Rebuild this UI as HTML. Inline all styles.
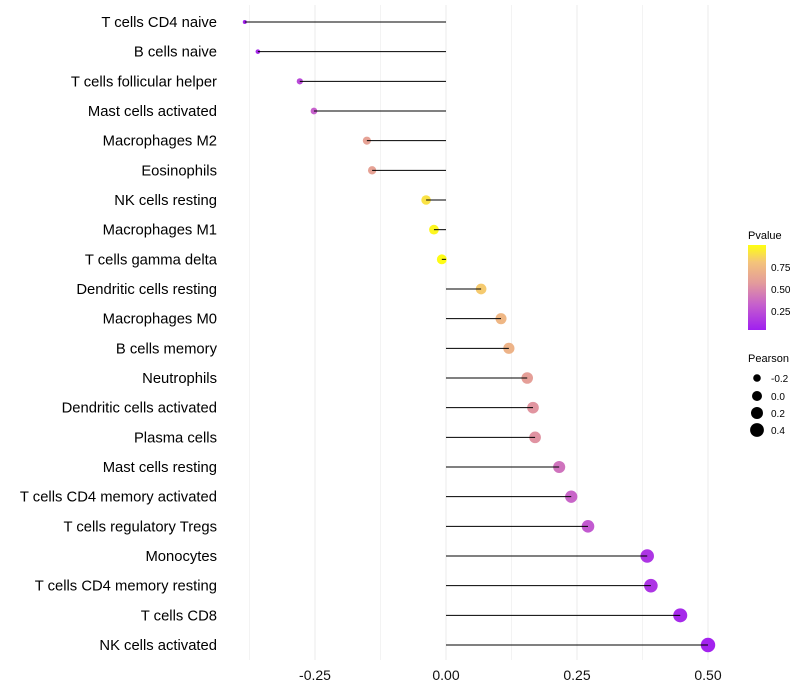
<!DOCTYPE html>
<html><head><meta charset="utf-8"><style>
body{margin:0;background:#fff;font-family:"Liberation Sans",sans-serif}
svg{display:block}
</style></head><body>
<svg id="chart" width="800" height="700" xmlns="http://www.w3.org/2000/svg">
<defs><linearGradient id="pgrad" x1="0" y1="1" x2="0" y2="0">
<stop offset="0" stop-color="#a01ff0"/><stop offset="0.3" stop-color="#c660cc"/><stop offset="0.55" stop-color="#e39a9c"/><stop offset="0.8" stop-color="#f4c47a"/><stop offset="1" stop-color="#ffff10"/>
</linearGradient></defs>
<g id="grid"></g>
<g id="marks"></g>
<g id="labels"></g>
<g id="xticks"></g>
<g font-size="10">
<text x="748" y="239" font-size="11">Pvalue</text>
<rect x="748" y="245" width="18" height="85" fill="url(#pgrad)"/>
<text x="771" y="271">0.75</text>
<text x="771" y="293">0.50</text>
<text x="771" y="315">0.25</text>
</g>
<g font-size="10">
<text x="748" y="362" font-size="11">Pearson</text>
<circle cx="757" cy="378" r="3.8"/><text x="771" y="382">-0.2</text>
<circle cx="757" cy="396" r="5"/><text x="771" y="400">0.0</text>
<circle cx="757" cy="413" r="6"/><text x="771" y="417">0.2</text>
<circle cx="757" cy="430" r="6.9"/><text x="771" y="434">0.4</text>
</g>
</svg>
<script>
const categories=["T cells CD4 naive","B cells naive","T cells follicular helper","Mast cells activated","Macrophages M2","Eosinophils","NK cells resting","Macrophages M1","T cells gamma delta","Dendritic cells resting","Macrophages M0","B cells memory","Neutrophils","Dendritic cells activated","Plasma cells","Mast cells resting","T cells CD4 memory activated","T cells regulatory  Tregs ","Monocytes","T cells CD4 memory resting","T cells CD8","NK cells activated"];
const pearson=[-0.384,-0.359,-0.279,-0.252,-0.151,-0.141,-0.038,-0.023,-0.008,0.067,0.105,0.120,0.155,0.166,0.170,0.216,0.239,0.271,0.384,0.391,0.447,0.500];
const pvalues=[0.02,0.05,0.2,0.3,0.6,0.6,0.9,0.97,0.99,0.82,0.72,0.7,0.58,0.53,0.52,0.38,0.32,0.27,0.1,0.1,0.05,0.02];
const xTicks=[-0.25,0,0.25,0.5];
const xTickLabels=["-0.25","0.00","0.25","0.50"];
const NS="http://www.w3.org/2000/svg";
const x=v=>446+v*524;
const y=i=>22+i*(623/21);
const rad=v=>Math.sqrt(Math.max(1,24.85+54.3*v));
const stops=[[0,[160,31,240]],[0.3,[198,96,204]],[0.55,[227,154,156]],[0.8,[244,196,122]],[1,[255,255,16]]];
function col(p){for(let k=1;k<stops.length;k++){if(p<=stops[k][0]){const a=stops[k-1],b=stops[k],t=(p-a[0])/(b[0]-a[0]);return "rgb("+a[1].map((c,j)=>Math.round(c+(b[1][j]-c)*t)).join(",")+")";}}return "rgb(255,255,16)";}
function mk(tag,attrs,parent){const e=document.createElementNS(NS,tag);for(const k in attrs)e.setAttribute(k,attrs[k]);parent.appendChild(e);return e;}
const grid=document.getElementById('grid'),marks=document.getElementById('marks'),labels=document.getElementById('labels'),xt=document.getElementById('xticks');
for(let v=-0.375;v<=0.51;v+=0.125){const l=mk('line',{x1:x(v),x2:x(v),y1:5,y2:660,stroke:Math.abs((v/0.25)%1)<0.01?'#ebebeb':'#f3f3f3','stroke-width':1},grid);

}
xTicks.forEach((v,i)=>{const t=mk('text',{x:x(v),y:680,'text-anchor':'middle','font-size':14,fill:'#111'},xt);t.textContent=xTickLabels[i];

});
categories.forEach((c,i)=>{
const t=mk('text',{x:217,y:y(i)+5,'text-anchor':'end','font-size':14.8,fill:'#000'},labels);t.textContent=c;


const d=mk('circle',{cx:x(pearson[i]),cy:y(i),r:rad(pearson[i]),fill:col(pvalues[i])},marks);


const l=mk('line',{x1:x(0),x2:x(pearson[i]),y1:y(i),y2:y(i),stroke:'#000','stroke-width':1},marks);


});
</script>
</body></html>
